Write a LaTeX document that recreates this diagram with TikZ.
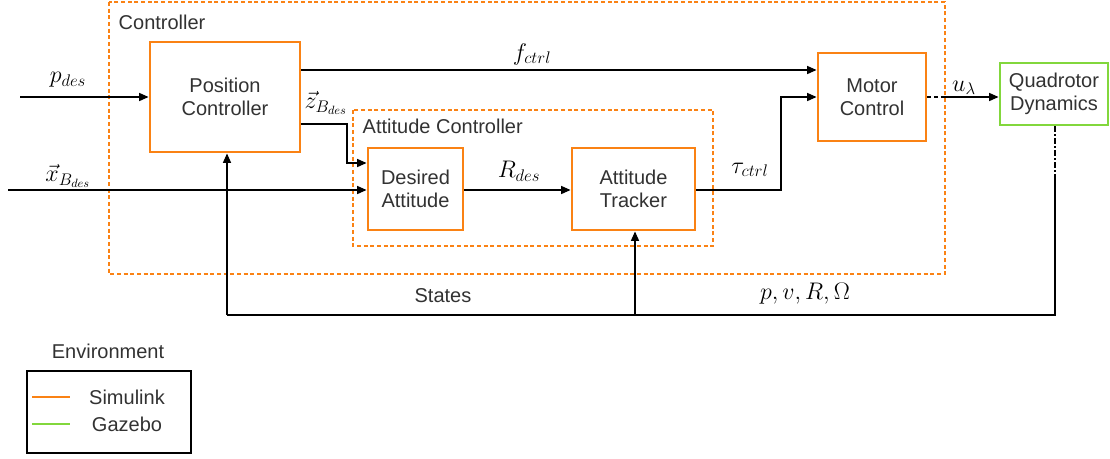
\RequirePackage{fix-cm}
\documentclass[tikz,border=0pt]{standalone}
\usepackage{fontspec}
\setmainfont{Liberation Sans}
\usetikzlibrary{arrows.meta}
\definecolor{simorange}{RGB}{250,130,20}
\definecolor{gazgreen}{RGB}{130,215,60}
\definecolor{txt}{RGB}{50,50,50}
\begin{document}
\begin{tikzpicture}[x=0.75pt,y=-0.75pt,
  every node/.style={text=txt,font=\fontsize{15}{17}\selectfont},
  blk/.style={draw=simorange,line width=2.2pt,fill=white,align=center,inner sep=0pt},
  gblk/.style={draw=gazgreen,line width=2.2pt,fill=white,align=center,inner sep=0pt},
  group/.style={draw=simorange,dashed,dash pattern=on 3pt off 2pt,line width=0.8pt},
  conn/.style={draw=black,line width=0.9pt},
  arr/.style={conn,-{Triangle[length=7pt,width=6pt]}},
  lbl/.style={text=black,font=\fontsize{18}{20}\selectfont}]
\useasboundingbox (0,0) rectangle (1110,458);

% grouping frames
\draw[group] (109,2) rectangle (945,274);
\node[anchor=west] (ctrllbl) at (114,22) {Controller};
\draw[group] (353,110) rectangle (713,246);
\node[anchor=west] (attlbl) at (358,126) {Attitude Controller};

% blocks
\node[blk,minimum width=150pt*0.75,minimum height=110pt*0.75] (pc) at (225,97) {Position\\Controller};
\node[blk,minimum width=95pt*0.75,minimum height=82pt*0.75] (da) at (415.5,189) {Desired\\Attitude};
\node[blk,minimum width=123pt*0.75,minimum height=82pt*0.75] (at) at (633.5,189) {Attitude\\Tracker};
\node[blk,minimum width=108pt*0.75,minimum height=88pt*0.75] (mc) at (872,97) {Motor\\Control};
\node[gblk,minimum width=108pt*0.75,minimum height=62pt*0.75] (qd) at (1054,94) {Quadrotor\\Dynamics};

% free ends and bends
\coordinate (pin) at (20,97);
\coordinate (xin) at (8,190);
\coordinate (zb) at (347,124);
\coordinate (tb) at (781,190);
\coordinate (ub) at (945,97);
\coordinate (fb) at (1055,180);
\coordinate (fc) at (1055,315);
\coordinate (fs) at (635,315);
\coordinate (fl) at (227,315);

% inputs
\draw[arr] (pin) -- (pc.west |- pin);
\node[lbl] (plbl) at (68,80) {$p_{des}$};
\draw[arr] (xin) -- (da.west |- xin);
\node[lbl] (xlbl) at (68,176) {$\vec{x}_{B_{des}}$};

% position controller outputs
\draw[arr] (pc.east |- 0,70) -- (mc.west |- 0,70);
\node[lbl] (flbl) at (532,54) {$f_{ctrl}$};
\draw[arr] (pc.east |- zb) -- (zb) |- (da.west |- 0,163);
\node[lbl] (zlbl) at (326,103) {$\vec{z}_{B_{des}}$};

% attitude loop
\draw[arr] (da.east |- 0,190) -- (at.west |- 0,190);
\node[lbl] (rlbl) at (519,171) {$R_{des}$};
\draw[arr] (at.east |- tb) -- (tb) |- (mc.west |- 0,97);
\node[lbl] (tlbl) at (750,170) {$\tau_{ctrl}$};

% motor command
\draw[conn,dashed,dash pattern=on 3pt off 2pt] (mc.east |- ub) -- (ub);
\draw[arr] (ub) -- (qd.west |- ub);
\node[lbl] (ulbl) at (964,88) {$u_{\lambda}$};

% state feedback
\draw[conn,dash pattern=on 4pt off 2pt on 1pt off 2pt] (qd.south -| fb) -- (fb);
\draw[conn] (fb) -- (fc) -- (fl);
\draw[arr] (fl) -- (pc.south -| fl);
\draw[arr] (fs) -- (at.south -| fs);
\node (stlbl) at (443,296) {States};
\node[lbl] (svlbl) at (805,294) {$p, v, R, \Omega$};

% legend
\node (envlbl) at (108,351) {Environment};
\draw[line width=0.8pt] (27,371) rectangle (191,453);
\draw[simorange,line width=0.8pt] (32,397) -- (70,397);
\node (simlbl) at (127,397) {Simulink};
\draw[gazgreen,line width=0.8pt] (32,424) -- (70,424);
\node (gazlbl) at (127,424) {Gazebo};
\end{tikzpicture}
\end{document}
